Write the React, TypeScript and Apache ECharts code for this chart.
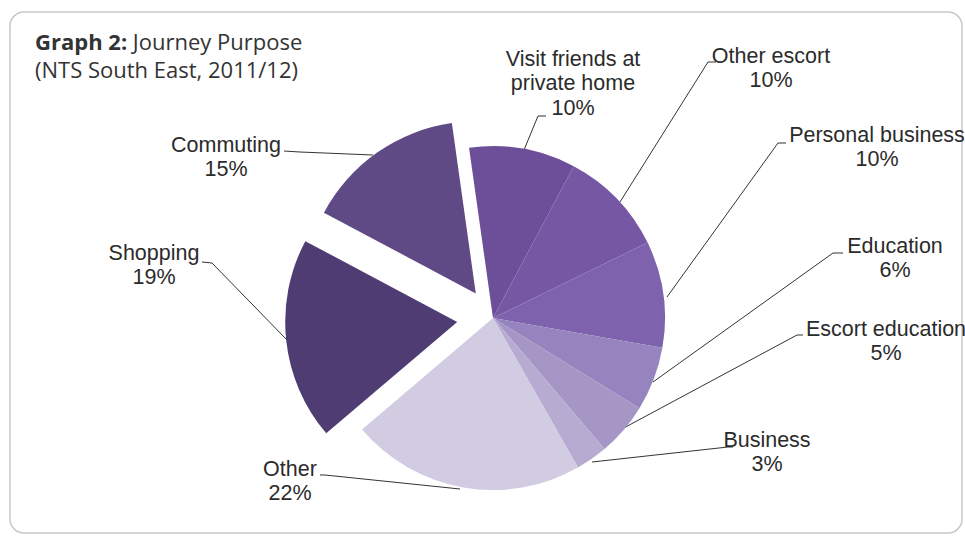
import React, { useEffect, useRef } from "react";
import * as echarts from "echarts";

const categories = [
  "Visit friends at private home",
  "Other escort",
  "Personal business",
  "Education",
  "Escort education",
  "Business",
  "Other",
  "Shopping",
  "Commuting",
];
const labelNames = [
  "Visit friends at\nprivate home",
  "Other escort",
  "Personal business",
  "Education",
  "Escort education",
  "Business",
  "Other",
  "Shopping",
  "Commuting",
];
const values = [10, 10, 10, 6, 5, 3, 22, 19, 15];
const colors = [
  "#6c4f98",
  "#7557a3",
  "#7e62ad",
  "#9584bd",
  "#a596c6",
  "#b7abd2",
  "#d2cce2",
  "#4f3c72",
  "#5f4a86",
];
const exploded = ["Shopping", "Commuting"];
const explodeOffsets = [36, 30];

// label layout (positions of label blocks and leader lines)
const labelPos: [number, number][] = [
  [573, 83],
  [771, 68],
  [877, 147],
  [895, 258],
  [886, 341],
  [767, 452],
  [290, 481],
  [154, 265],
  [226, 157],
];
const linePts: number[][][] = [
  [[524, 150], [538, 116], [546, 116]],
  [[620, 202], [708, 62], [716, 62]],
  [[667, 297], [778, 143], [786, 143]],
  [[653, 382], [833, 253], [843, 253]],
  [[620, 430], [797, 335], [803, 335]],
  [[592, 462], [728, 447], [733, 447]],
  [[460, 489], [325, 475], [320, 475]],
  [[287, 340], [212, 263], [202, 262]],
  [[373, 155], [300, 152], [284, 151]],
];

const CENTER = [493, 318];
const RADIUS = 172;
const START = 98;

export default function App() {
  const ref = useRef<HTMLDivElement>(null);
  useEffect(() => {
    if (!ref.current) return;
    const chart = echarts.init(ref.current, null, { renderer: "svg" });
    const transparent = "rgba(0,0,0,0)";

    const mainData = categories.map((name, i) => ({
      name,
      value: values[i],
      itemStyle: {
        color: exploded.includes(name) ? transparent : colors[i],
      },
    }));

    const explodedSeries = exploded.map((exName, k) => ({
      type: "pie",
      center: CENTER,
      radius: RADIUS,
      startAngle: START,
      clockwise: true,
      silent: true,
      selectedMode: "single",
      selectedOffset: explodeOffsets[k],
      label: { show: false },
      labelLine: { show: false },
      emphasis: { disabled: true },
      data: categories.map((name, i) => ({
        name,
        value: values[i],
        selected: name === exName,
        itemStyle: {
          color: name === exName ? colors[i] : transparent,
          borderWidth: 0,
        },
        select: {
          itemStyle: {
            color: name === exName ? colors[i] : transparent,
            borderWidth: 0,
          },
        },
      })),
    }));

    chart.setOption({
      animation: false,
      title: {
        text: "{b|Graph 2:} Journey Purpose\n(NTS South East, 2011/12)",
        left: 30,
        top: 22,
        textStyle: {
          fontFamily: "Open Sans",
          fontSize: 22,
          fontWeight: "normal",
          color: "#333333",
          lineHeight: 28,
          rich: {
            b: {
              fontFamily: "Open Sans",
              fontSize: 22,
              fontWeight: "bold",
              color: "#333333",
              lineHeight: 28,
            },
          },
        },
      },
      graphic: [
        {
          type: "rect",
          shape: { x: 10, y: 12, width: 952, height: 521, r: 14 },
          style: { fill: "none", stroke: "#c8c8c8", lineWidth: 1.5 },
          silent: true,
        },
      ],
      series: [
        {
          type: "pie",
          center: CENTER,
          radius: RADIUS,
          startAngle: START,
          clockwise: true,
          silent: true,
          emphasis: { disabled: true },
          itemStyle: { borderWidth: 0 },
          label: {
            show: true,
            position: "outside",
            formatter: (p: any) => labelNames[p.dataIndex] + "\n" + p.value + "%",
            fontFamily: "Liberation Sans",
            fontSize: 21.5,
            lineHeight: 24.5,
            color: "#2b2b2b",
            align: "center",
          },
          labelLine: {
            show: true,
            lineStyle: { color: "#333333", width: 1 },
          },
          labelLayout: (params: any) => {
            const i = params.dataIndex;
            return {
              x: labelPos[i][0],
              y: labelPos[i][1],
              align: "center",
              verticalAlign: "middle",
              labelLinePoints: linePts[i],
            };
          },
          data: mainData,
        },
        ...explodedSeries,
      ],
    });
    return () => chart.dispose();
  }, []);
  return (
    <div
      ref={ref}
      style={{ position: "fixed", left: 0, top: 0, width: 965, height: 538, background: "#ffffff" }}
    />
  );
}
